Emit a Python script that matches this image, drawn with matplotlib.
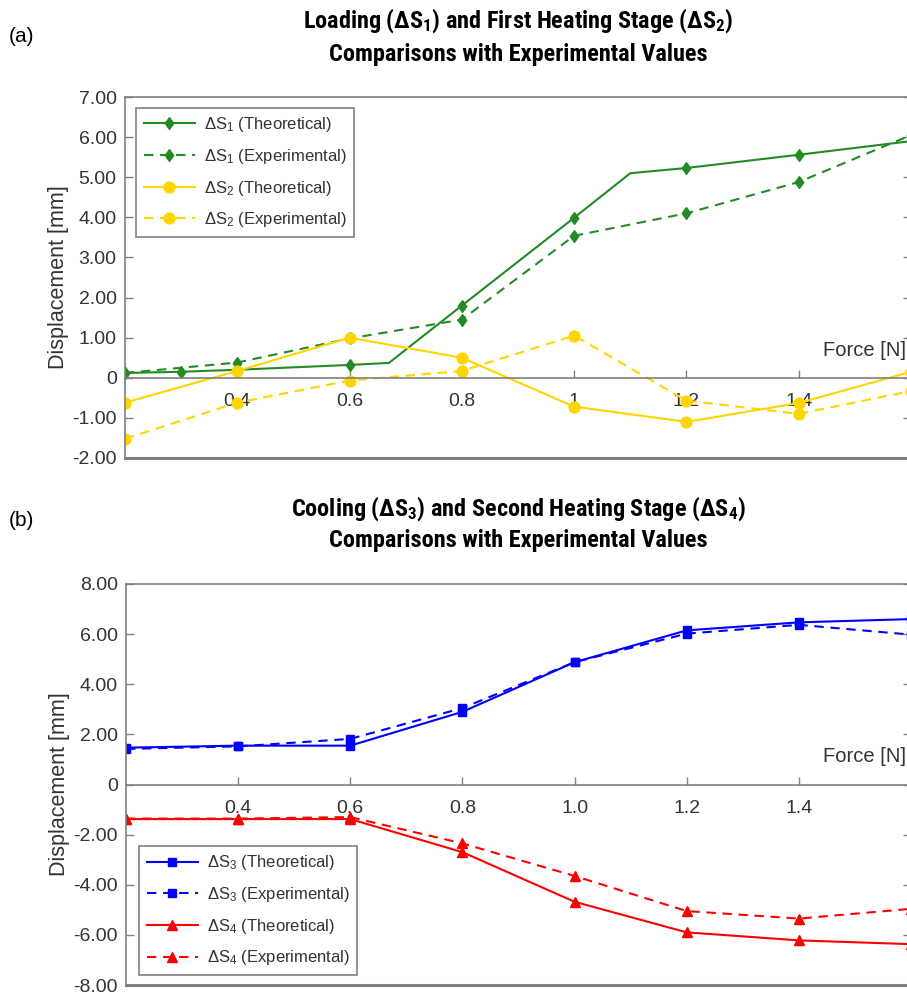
import matplotlib
matplotlib.use('Agg')
import matplotlib.pyplot as plt
from matplotlib.ticker import FuncFormatter
from matplotlib.transforms import offset_copy

plt.rcParams['font.family'] = ['Liberation Sans', 'DejaVu Sans']
plt.rcParams['mathtext.default'] = 'regular'

# --- data: displacement [mm] vs force [N] ---
force = [0.2, 0.4, 0.6, 0.8, 1.0, 1.2, 1.4, 1.6]

# loading stage (theoretical curve has two extra break points without markers)
s1_theo_force = [0.2, 0.3, 0.4, 0.6, 0.67, 0.8, 1.0, 1.1, 1.2, 1.4, 1.6]
s1_theo = [0.12, 0.15, 0.2, 0.32, 0.37, 1.8, 3.99, 5.1, 5.23, 5.56, 5.9]
s1_theo_marks = [0, 1, 2, 3, 5, 6, 8, 9, 10]
s1_exp = [0.12, 0.38, 0.98, 1.45, 3.54, 4.1, 4.88, 6.05]

# first heating stage
s2_theo = [-0.62, 0.17, 1.0, 0.5, -0.72, -1.1, -0.63, 0.15]
s2_exp = [-1.52, -0.62, -0.07, 0.17, 1.05, -0.57, -0.9, -0.33]

# cooling stage
s3_theo = [1.47, 1.55, 1.55, 2.9, 4.88, 6.15, 6.47, 6.6]
s3_exp = [1.42, 1.52, 1.82, 3.05, 4.88, 6.02, 6.37, 5.98]

# second heating stage
s4_theo = [-1.38, -1.38, -1.38, -2.7, -4.68, -5.9, -6.22, -6.37]
s4_exp = [-1.36, -1.36, -1.3, -2.35, -3.65, -5.05, -5.35, -4.96]

xticks_a = [0.4, 0.6, 0.8, 1.0, 1.2, 1.4]
xticklabels_a = ['0.4', '0.6', '0.8', '1', '1.2', '1.4']
xticklabels_b = ['0.4', '0.6', '0.8', '1.0', '1.2', '1.4']

green = '#238B23'
yellow = '#FFD500'
blue = '#0000FF'
red = '#FF0000'
grey = '#808080'
txt = '#333333'
dash = (0, (4.5, 3.2))
diamond = [(0, 1), (0.72, 0), (0, -1), (-0.72, 0), (0, 1)]

W, H = 907, 994
fig = plt.figure(figsize=(W / 100, H / 100), dpi=100)


def px_axes(x0, y0, x1, y1):
    return fig.add_axes([x0 / W, 1 - y1 / H, (x1 - x0) / W, (y1 - y0) / H])


def style_axes(ax, ylim, yticks, xlabels):
    ax.set_xlim(0.2, 1.6)
    ax.set_ylim(*ylim)
    ax.set_yticks(yticks)
    ax.yaxis.set_major_formatter(FuncFormatter(lambda v, p: '0' if abs(v) < 1e-9 else f'{v:.2f}'))
    ax.set_xticks(xticks_a)
    ax.set_xticklabels(xlabels)
    # x axis crosses at y = 0, box drawn all around
    ax.spines['bottom'].set_position(('data', 0))
    for s in ax.spines.values():
        s.set_color(grey)
        s.set_linewidth(1.2)
    ax.plot([0, 1], [0, 0], transform=ax.transAxes, color=grey, lw=2.2,
            clip_on=False, zorder=5)
    ax.tick_params(axis='x', direction='in', length=6, width=1, color=grey,
                   labelsize=14, labelcolor=txt, pad=11)
    ax.tick_params(axis='y', direction='in', length=6, width=1, color=grey,
                   labelsize=14, labelcolor=txt, right=True, pad=6)
    ax.set_ylabel('Displacement [mm]', fontsize=15.5, color=txt, labelpad=2)
    tr = offset_copy(ax.get_yaxis_transform(), fig=fig, y=13, units='points')
    ax.text(0.994, 0.0, 'Force [N]', transform=tr,
            ha='right', va='bottom', fontsize=14.5, color=txt)


def add_legend(ax, **kw):
    leg = ax.legend(fontsize=12, fancybox=False, framealpha=1, edgecolor=grey,
                    handlelength=3.1, handletextpad=0.5, labelspacing=0.76,
                    numpoints=1, borderpad=0.45, borderaxespad=0, **kw)
    leg.get_frame().set_linewidth(1.2)
    for t in leg.get_texts():
        t.set_color(txt)


# ---------------- (a) loading / first heating ----------------
ax1 = px_axes(125, 97, 911, 458)
ax1.plot(s1_theo_force, s1_theo, color=green, lw=1.5, marker=diamond, ms=8.5,
         markevery=s1_theo_marks, label='ΔS$_1$ (Theoretical)')
ax1.plot(force, s1_exp, color=green, lw=1.5, ls=dash, marker=diamond, ms=8.5,
         label='ΔS$_1$ (Experimental)')
ax1.plot(force, s2_theo, color=yellow, lw=1.5, marker='o', ms=7.8,
         label='ΔS$_2$ (Theoretical)')
ax1.plot(force, s2_exp, color=yellow, lw=1.5, ls=dash, marker='o', ms=7.8,
         label='ΔS$_2$ (Experimental)')
style_axes(ax1, (-2, 7), range(-2, 8), xticklabels_a)
add_legend(ax1, loc='upper left', bbox_to_anchor=(0.014, 0.97))

# ---------------- (b) cooling / second heating ----------------
ax2 = px_axes(126, 584, 911, 985)
ax2.plot(force, s3_theo, color=blue, lw=1.5, marker='s', ms=5.3,
         label='ΔS$_3$ (Theoretical)')
ax2.plot(force, s3_exp, color=blue, lw=1.5, ls=dash, marker='s', ms=5.3,
         label='ΔS$_3$ (Experimental)')
ax2.plot(force, s4_theo, color=red, lw=1.5, marker='^', ms=7,
         label='ΔS$_4$ (Theoretical)')
ax2.plot(force, s4_exp, color=red, lw=1.5, ls=dash, marker='^', ms=7,
         label='ΔS$_4$ (Experimental)')
style_axes(ax2, (-8, 8), range(-8, 9, 2), xticklabels_b)
add_legend(ax2, loc='lower left', bbox_to_anchor=(0.0166, 0.025))

# ---------------- titles and panel letters ----------------
title_font = dict(family=['Liberation Sans Narrow', 'Roboto Condensed', 'Liberation Sans'],
                  weight='bold', fontsize=17.5, ha='center', va='center')
cx = 518 / W
fig.text(cx, 1 - 21 / H, 'Loading (ΔS$_1$) and First Heating Stage (ΔS$_2$)', **title_font)
fig.text(cx, 1 - 55 / H, 'Comparisons with Experimental Values', **title_font)
fig.text(cx, 1 - 509 / H, 'Cooling (ΔS$_3$) and Second Heating Stage (ΔS$_4$)', **title_font)
fig.text(cx, 1 - 541 / H, 'Comparisons with Experimental Values', **title_font)

fig.text(9 / W, 1 - 36 / H, '(a)', fontsize=15, va='center', ha='left')
fig.text(9 / W, 1 - 520 / H, '(b)', fontsize=15, va='center', ha='left')

fig.savefig('out.png', dpi=100)
